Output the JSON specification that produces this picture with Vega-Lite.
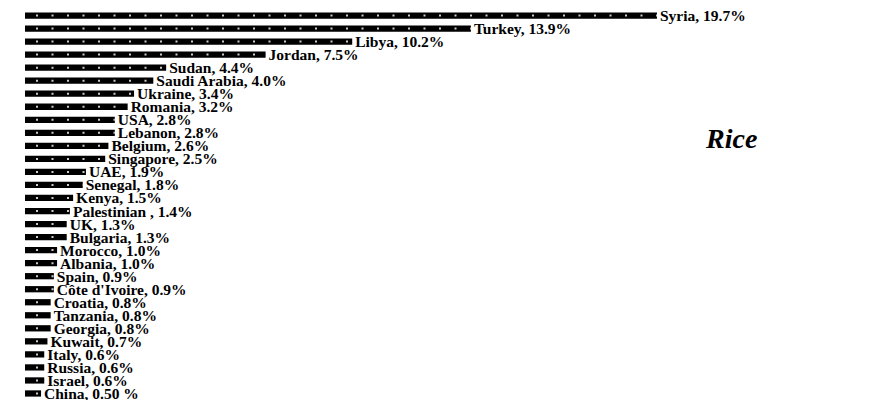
{
  "$schema": "https://vega.github.io/schema/vega-lite/v6.json",
  "autosize": "none",
  "padding": {"left": 25, "top": 9, "right": 0, "bottom": 0},
  "width": 802,
  "height": 391,
  "background": "white",
  "config": {"view": {"stroke": null}},
  "title": {"text": "Rice", "orient": "top", "anchor": "start", "frame": "group", "offset": 0,
            "baseline": "middle", "dx": 681, "dy": 159,
            "font": "Liberation Serif", "fontWeight": "bold", "fontStyle": "italic", "fontSize": 28, "color": "black"},
  "data": {"values": [
    {"country": "Syria", "value": 19.7, "label": "Syria, 19.7%"},
    {"country": "Turkey", "value": 13.9, "label": "Turkey, 13.9%"},
    {"country": "Libya", "value": 10.2, "label": "Libya, 10.2%"},
    {"country": "Jordan", "value": 7.5, "label": "Jordan, 7.5%"},
    {"country": "Sudan", "value": 4.4, "label": "Sudan, 4.4%"},
    {"country": "Saudi Arabia", "value": 4.0, "label": "Saudi Arabia, 4.0%"},
    {"country": "Ukraine", "value": 3.4, "label": "Ukraine, 3.4%"},
    {"country": "Romania", "value": 3.2, "label": "Romania, 3.2%"},
    {"country": "USA", "value": 2.8, "label": "USA, 2.8%"},
    {"country": "Lebanon", "value": 2.8, "label": "Lebanon, 2.8%"},
    {"country": "Belgium", "value": 2.6, "label": "Belgium, 2.6%"},
    {"country": "Singapore", "value": 2.5, "label": "Singapore, 2.5%"},
    {"country": "UAE", "value": 1.9, "label": "UAE, 1.9%"},
    {"country": "Senegal", "value": 1.8, "label": "Senegal, 1.8%"},
    {"country": "Kenya", "value": 1.5, "label": "Kenya, 1.5%"},
    {"country": "Palestinian", "value": 1.4, "label": "Palestinian , 1.4%"},
    {"country": "UK", "value": 1.3, "label": "UK, 1.3%"},
    {"country": "Bulgaria", "value": 1.3, "label": "Bulgaria, 1.3%"},
    {"country": "Morocco", "value": 1.0, "label": "Morocco, 1.0%"},
    {"country": "Albania", "value": 1.0, "label": "Albania, 1.0%"},
    {"country": "Spain", "value": 0.9, "label": "Spain, 0.9%"},
    {"country": "Côte d'Ivoire", "value": 0.9, "label": "Côte d'Ivoire, 0.9%"},
    {"country": "Croatia", "value": 0.8, "label": "Croatia, 0.8%"},
    {"country": "Tanzania", "value": 0.8, "label": "Tanzania, 0.8%"},
    {"country": "Georgia", "value": 0.8, "label": "Georgia, 0.8%"},
    {"country": "Kuwait", "value": 0.7, "label": "Kuwait, 0.7%"},
    {"country": "Italy", "value": 0.6, "label": "Italy, 0.6%"},
    {"country": "Russia", "value": 0.6, "label": "Russia, 0.6%"},
    {"country": "Israel", "value": 0.6, "label": "Israel, 0.6%"},
    {"country": "China", "value": 0.5, "label": "China, 0.50 %"}
  ]},
  "encoding": {
    "y": {"field": "country", "type": "nominal", "sort": null, "axis": null,
          "scale": {"paddingInner": 0.52, "paddingOuter": 0.26}},
    "x": {"field": "value", "type": "quantitative", "axis": null,
          "scale": {"domain": [0, 25], "nice": false, "zero": true}}
  },
  "layer": [
    {"mark": {"type": "bar", "color": "black", "cornerRadius": 0}},
    {"mark": {"type": "rule", "color": "white", "strokeWidth": 2, "strokeDash": [2, 13.5], "strokeDashOffset": -11, "opacity": 0.8},
     "encoding": {"x": {"datum": 0}, "x2": {"field": "value"}}},
    {"mark": {"type": "text", "align": "left", "baseline": "middle", "dx": 3, "dy": 0.5,
              "font": "Liberation Serif", "fontWeight": "bold", "fontSize": 15.5, "color": "black"},
     "encoding": {"text": {"field": "label"}}}
  ]
}
